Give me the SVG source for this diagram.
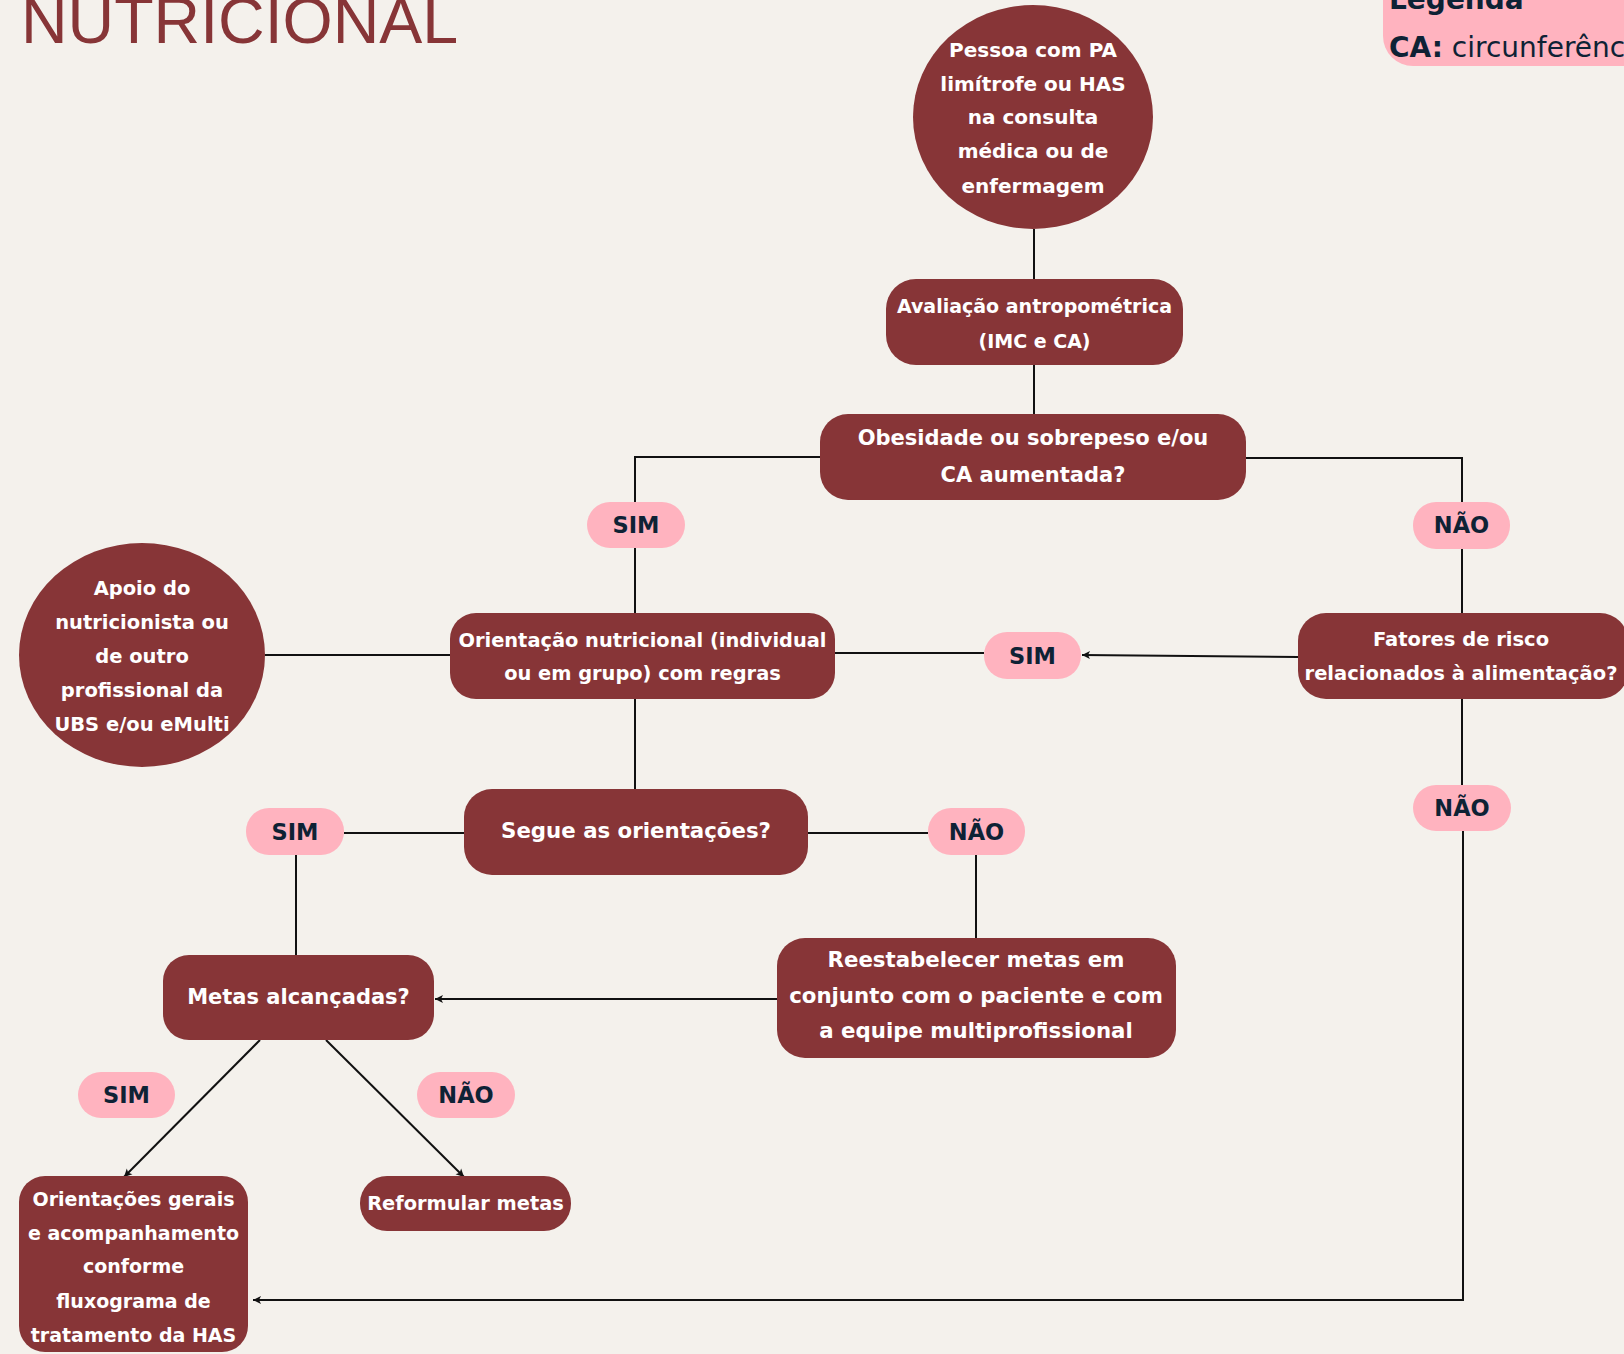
<svg xmlns="http://www.w3.org/2000/svg" width="1624" height="1354" viewBox="0 0 1624 1354">
<defs>
<style>
.bg{fill:#F4F1EC}
.node{fill:#873537}
.pill{fill:#FFB3BF}
.nt{fill:#FFFFFF;font-family:"DejaVu Sans",sans-serif;font-weight:bold;text-anchor:middle}
.pt{fill:#0E2235;font-family:"DejaVu Sans",sans-serif;font-weight:bold;font-size:22.5px;text-anchor:middle}
.ln{fill:none;stroke:#111111;stroke-width:2}
</style>
<marker id="ah" markerUnits="userSpaceOnUse" markerWidth="10" markerHeight="10" refX="9" refY="5" orient="auto">
<path d="M1,1 L9,5 L1,9 L3,5 z" fill="#111111"/>
</marker>
</defs>
<rect class="bg" x="0" y="0" width="1624" height="1354"/>
<text x="21" y="43" font-family="Liberation Sans, sans-serif" font-size="64.5" fill="#873537">NUTRICIONAL</text>
<g id="legenda">
<rect x="1383" y="-40" width="280" height="106" rx="30" fill="#FFB3BF"/>
<text x="1389" y="9" font-family="DejaVu Sans, sans-serif" font-weight="bold" font-size="28" fill="#0E2235">Legenda</text>
<text x="1389" y="57" font-family="DejaVu Sans, sans-serif" font-size="28" fill="#0E2235"><tspan font-weight="bold">CA:</tspan> circunferência abdominal</text>
</g>
<g id="connectors">
<line class="ln" x1="1034" y1="229" x2="1034" y2="279"/>
<line class="ln" x1="1034" y1="365" x2="1034" y2="414"/>
<polyline class="ln" points="820,457 635,457 635,502"/>
<line class="ln" x1="635" y1="548" x2="635" y2="613"/>
<polyline class="ln" points="1246,458 1462,458 1462,502"/>
<line class="ln" x1="1462" y1="549" x2="1462" y2="613"/>
<line class="ln" x1="1298" y1="657" x2="1082" y2="655" marker-end="url(#ah)"/>
<line class="ln" x1="984" y1="653" x2="835" y2="653"/>
<line class="ln" x1="265" y1="655" x2="450" y2="655"/>
<line class="ln" x1="635" y1="699" x2="635" y2="789"/>
<line class="ln" x1="464" y1="833" x2="344" y2="833"/>
<line class="ln" x1="296" y1="855" x2="296" y2="955"/>
<line class="ln" x1="808" y1="833" x2="928" y2="833"/>
<line class="ln" x1="976" y1="855" x2="976" y2="938"/>
<line class="ln" x1="777" y1="999" x2="435" y2="999" marker-end="url(#ah)"/>
<line class="ln" x1="260" y1="1040" x2="124" y2="1177" marker-end="url(#ah)"/>
<line class="ln" x1="326" y1="1040" x2="464" y2="1177" marker-end="url(#ah)"/>
<line class="ln" x1="1462" y1="699" x2="1462" y2="785"/>
<polyline class="ln" points="1463,831 1463,1300 253,1300" marker-end="url(#ah)"/>
</g>
<g id="inicio">
<ellipse class="node" cx="1033" cy="117" rx="120" ry="112"/>
<text class="nt" font-size="20"><tspan x="1033" y="57">Pessoa com PA</tspan><tspan x="1033" y="91">limítrofe ou HAS</tspan><tspan x="1033" y="124">na consulta</tspan><tspan x="1033" y="158">médica ou de</tspan><tspan x="1033" y="193">enfermagem</tspan></text>
</g>
<g id="avaliacao">
<rect class="node" x="886" y="279" width="297" height="86" rx="30"/>
<text class="nt" font-size="19"><tspan x="1034.5" y="313">Avaliação antropométrica</tspan><tspan x="1034.5" y="348">(IMC e CA)</tspan></text>
</g>
<g id="obesidade">
<rect class="node" x="820" y="414" width="426" height="86" rx="28"/>
<text class="nt" font-size="21"><tspan x="1033" y="445">Obesidade ou sobrepeso e/ou</tspan><tspan x="1033" y="482">CA aumentada?</tspan></text>
</g>
<g id="sim1">
<rect class="pill" x="587" y="502" width="98" height="46" rx="23"/>
<text class="pt" x="636" y="533">SIM</text>
</g>
<g id="nao1">
<rect class="pill" x="1413" y="502" width="97" height="47" rx="23"/>
<text class="pt" x="1461.5" y="533">NÃO</text>
</g>
<g id="apoio">
<ellipse class="node" cx="142" cy="655" rx="123" ry="112"/>
<text class="nt" font-size="19.5"><tspan x="142" y="595">Apoio do</tspan><tspan x="142" y="629">nutricionista ou</tspan><tspan x="142" y="663">de outro</tspan><tspan x="142" y="697">profissional da</tspan><tspan x="142" y="731">UBS e/ou eMulti</tspan></text>
</g>
<g id="orientacao">
<rect class="node" x="450" y="613" width="385" height="86" rx="26"/>
<text class="nt" font-size="19.4"><tspan x="642.5" y="647">Orientação nutricional (individual</tspan><tspan x="642.5" y="680">ou em grupo) com regras</tspan></text>
</g>
<g id="sim2">
<rect class="pill" x="984" y="632" width="97" height="47" rx="23"/>
<text class="pt" x="1032.5" y="664">SIM</text>
</g>
<g id="fatores">
<rect class="node" x="1298" y="613" width="330" height="86" rx="28"/>
<text class="nt" font-size="19.5"><tspan x="1461" y="646">Fatores de risco</tspan><tspan x="1461" y="680">relacionados à alimentação?</tspan></text>
</g>
<g id="nao2">
<rect class="pill" x="1413" y="785" width="98" height="46" rx="23"/>
<text class="pt" x="1462" y="816">NÃO</text>
</g>
<g id="segue">
<rect class="node" x="464" y="789" width="344" height="86" rx="28"/>
<text class="nt" font-size="21.3" x="636" y="838">Segue as orientações?</text>
</g>
<g id="sim3">
<rect class="pill" x="246" y="808" width="98" height="47" rx="23"/>
<text class="pt" x="295" y="840">SIM</text>
</g>
<g id="nao3">
<rect class="pill" x="928" y="808" width="97" height="47" rx="23"/>
<text class="pt" x="976.5" y="840">NÃO</text>
</g>
<g id="metas">
<rect class="node" x="163" y="955" width="271" height="85" rx="26"/>
<text class="nt" font-size="21" x="298.5" y="1004">Metas alcançadas?</text>
</g>
<g id="reestabelecer">
<rect class="node" x="777" y="938" width="399" height="120" rx="28"/>
<text class="nt" font-size="21.3"><tspan x="976" y="967">Reestabelecer metas em</tspan><tspan x="976" y="1003">conjunto com o paciente e com</tspan><tspan x="976" y="1038">a equipe multiprofissional</tspan></text>
</g>
<g id="sim4">
<rect class="pill" x="78" y="1072" width="97" height="46" rx="23"/>
<text class="pt" x="126.5" y="1103">SIM</text>
</g>
<g id="nao4">
<rect class="pill" x="417" y="1072" width="98" height="46" rx="23"/>
<text class="pt" x="466" y="1103">NÃO</text>
</g>
<g id="orientacoes-gerais">
<rect class="node" x="19" y="1176" width="229" height="176" rx="26"/>
<text class="nt" font-size="19"><tspan x="133.5" y="1206">Orientações gerais</tspan><tspan x="133.5" y="1240">e acompanhamento</tspan><tspan x="133.5" y="1273">conforme</tspan><tspan x="133.5" y="1308">fluxograma de</tspan><tspan x="133.5" y="1342">tratamento da HAS</tspan></text>
</g>
<g id="reformular">
<rect class="node" x="360" y="1176" width="211" height="55" rx="27"/>
<text class="nt" font-size="19.4" x="465.5" y="1210">Reformular metas</text>
</g>
</svg>
